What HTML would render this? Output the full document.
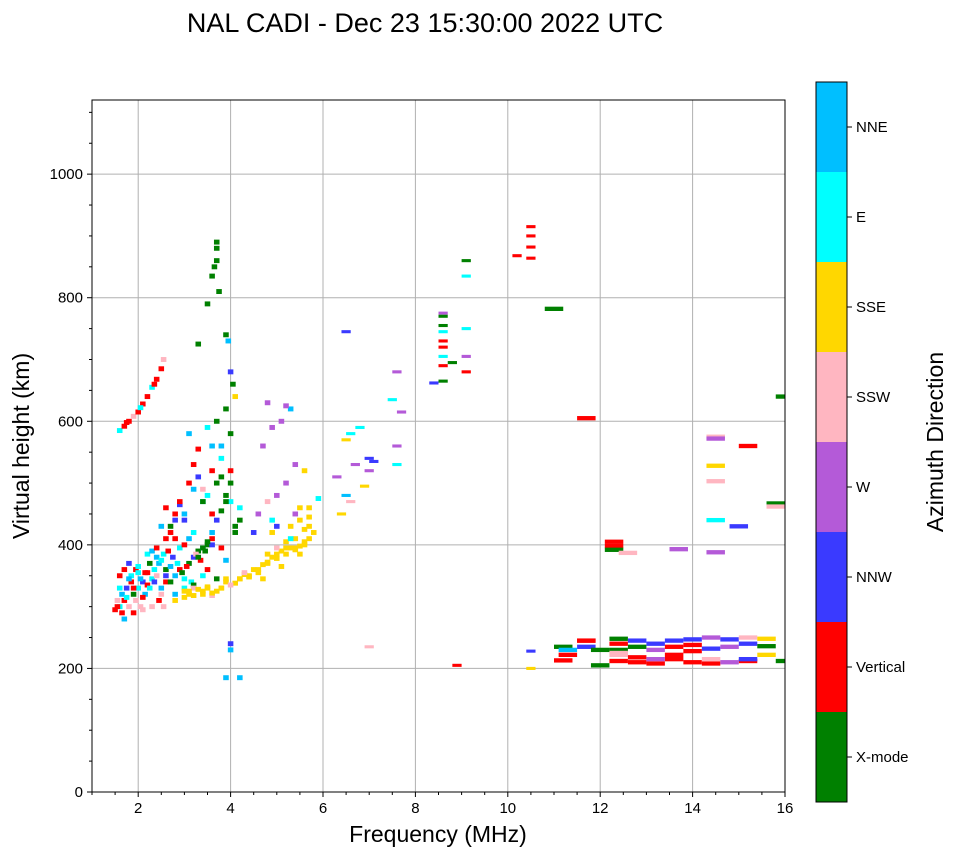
<!DOCTYPE html>
<html><head><meta charset="utf-8"><style>
body{margin:0;background:#fff;}
svg{display:block;font-family:"Liberation Sans",sans-serif;}
</style></head><body>
<svg id="chart" width="958" height="857">
<text x="425" y="32" font-size="27" text-anchor="middle">NAL CADI - Dec 23 15:30:00 2022 UTC</text>
<g id="grid"></g>
<g id="marks"></g>
<rect x="92" y="100" width="693" height="692" fill="none" stroke="#000" stroke-width="1"/>
<g id="axes"></g>
<text x="438" y="842" font-size="23" text-anchor="middle">Frequency (MHz)</text>
<text transform="translate(29,446) rotate(-90)" font-size="23" text-anchor="middle">Virtual height (km)</text>
<g id="cbar"></g>
<text transform="translate(943,442) rotate(-90)" font-size="23" text-anchor="middle">Azimuth Direction</text>
</svg>
<script>
const dirNames=["X-mode","Vertical","NNW","W","SSW","SSE","E","NNE"];
const dirColors=["#008000","#ff0000","#3a3aff","#b45ad8","#ffb6c1","#ffd700","#00ffff","#00bfff"];
const xTicks=[2,4,6,8,10,12,14,16];
const yTicks=[0,200,400,600,800,1000];
const fA=[1.6,1.7,1.8,1.9,2.0,2.1,2.2,2.3,2.4,2.5,2.55,1.75,2.05,2.35];
const hA=[585,592,600,608,615,628,640,655,668,685,700,598,622,660];
const dA=[6,1,1,4,1,1,1,6,1,1,4,1,6,1];
const fB=[1.5,1.6,1.7,1.8,1.9,2.0,2.1,2.2,2.3,2.4,2.5,2.6,1.55,1.65,1.75,1.85,1.95,2.05,2.15,2.25,2.35,2.45,2.55,1.6,1.8,2.0,2.2,2.4,2.6,1.7,1.9,2.1,2.3,2.5];
const hB=[295,300,310,300,320,330,340,335,345,350,330,340,310,290,330,350,360,300,320,370,360,310,300,350,370,365,355,380,360,280,290,295,300,320];
const dB=[1,6,1,4,0,6,2,1,6,4,7,1,4,1,2,6,1,4,7,0,6,1,4,1,2,6,1,7,0,7,1,4,4,4];
const fC=[2.7,2.8,2.9,3.0,3.1,3.2,3.3,3.4,3.5,3.6,2.75,2.85,2.95,3.05,3.15,3.25,3.35,3.45,2.8,3.0,3.2,3.4,3.6,3.8];
const hC=[340,350,360,345,370,380,390,395,400,410,380,370,355,365,340,385,375,390,320,330,335,350,400,395];
const dC=[0,7,1,6,0,2,0,7,0,1,2,6,0,1,6,4,1,0,7,6,0,6,2,1];
const fD=[2.8,3.0,3.2,3.4,3.6,3.8,4.0,4.2,4.4,4.6,4.8,5.0,5.2,5.4,5.6,3.1,3.5,3.9,4.3,4.7,5.1,5.5,4.9,5.3,5.7,6.4,6.6,6.9];
const hD=[310,315,318,320,322,330,335,345,350,360,370,385,395,395,400,325,330,345,355,345,365,385,420,430,445,450,470,495];
const dD=[5,5,5,5,5,5,4,5,5,5,5,5,5,5,5,5,5,5,4,5,5,5,5,5,5,5,4,5];
const fE=[2.7,2.8,2.9,3.0,3.1,3.2,3.3,3.4,3.5,3.6,3.7,3.8,3.9,4.0,4.1,4.2,2.8,3.0,3.2,3.4,3.6,3.8,4.0,3.1,3.3,3.5,3.7,3.9,2.5,2.6];
const hE=[420,440,470,450,500,490,510,470,480,520,500,560,470,520,430,460,410,440,530,490,560,540,580,580,555,590,600,620,430,460];
const dE=[1,2,1,7,1,7,2,0,6,1,0,7,0,1,0,6,1,2,1,4,7,6,0,7,1,6,0,0,7,1];
const fF=[3.7,3.7,3.7,3.65,3.6,3.9,3.95,3.3,3.5,3.75,4.0,4.05,4.1];
const hF=[890,880,860,850,835,740,730,725,790,810,680,660,640];
const dF=[0,0,0,0,0,0,7,0,0,0,2,0,5];
const fG=[4.6,4.8,5.0,5.2,5.4,5.6,4.7,4.9,5.1,5.3,5.5,4.5,4.9,5.3,5.7,5.9,4.8,5.2,5.0,5.4,6.5,6.7,7.0,7.1,6.3,7.6,7.7];
const hG=[450,470,480,500,530,520,560,590,600,620,460,420,440,410,430,475,630,625,430,450,570,530,520,535,510,560,615];
const dG=[3,4,3,3,3,5,3,3,3,7,5,2,6,6,5,6,3,3,2,3,5,3,3,2,3,3,3];
const fH=[6.5,6.6,6.8,7.0,6.5,7.5,7.6,7.6,8.6,8.6,8.6,8.6,8.6,8.6,8.6,8.6,8.6,8.4,8.8,9.1,9.1,9.1,9.1,9.1,10.2,10.5,10.5,10.5,10.5,11.0];
const hH=[745,580,590,540,480,635,680,530,775,770,755,745,730,720,705,690,665,662,695,860,835,750,705,680,868,915,900,882,864,782];
const dH=[2,6,6,2,7,6,3,6,3,0,0,6,1,1,6,1,0,2,0,0,6,6,3,1,1,1,1,1,1,0];
const fI=[8.9,10.5,10.5,11.2,11.7,11.7,11.2,12.3,12.3,12.3,12.6,14.5,14.5,14.5,14.5,14.5,14.5,15.2,15.0,15.8,15.8,13.7,16.0,7.0,4.0,4.0,3.9,4.2];
const hI=[205,228,200,213,605,245,235,405,398,392,387,575,572,528,503,440,388,560,430,467,462,393,640,235,240,230,185,185];
const dI=[1,2,5,1,1,1,0,1,1,0,4,4,3,5,4,6,3,1,2,0,4,3,0,4,2,7,7,7];
const fJ=[11.3,11.3,11.7,11.7,12.0,12.4,12.4,12.4,12.4,12.8,12.8,12.8,13.2,13.2,13.2,13.6,13.6,13.6,14.0,14.0,14.0,14.4,14.4,14.4,14.8,14.8,15.2,15.2,15.2,15.6,15.6,15.6,16.0,12.4,12.8,13.2,13.6,14.0,14.4,14.8,15.2,12.0,12.4];
const hJ=[230,222,245,235,205,248,240,230,212,245,235,210,240,230,208,245,235,215,247,238,228,250,232,208,247,235,250,240,212,248,236,222,212,222,218,215,222,210,215,210,215,230,225];
const dJ=[7,1,1,2,0,0,1,0,1,2,0,1,2,3,1,2,1,1,2,1,1,3,2,1,2,3,4,2,1,5,0,5,0,4,1,3,1,1,4,3,2,0,4];
const fK=[3.0,3.1,3.2,3.3,3.4,3.5,3.6,3.7,3.8,3.9,4.1,4.2,4.3,4.4,4.5,4.6,4.7,4.8,4.9,5.0,5.1,5.2,5.3,5.4,5.5,5.6,5.7,5.8,5.4,5.6,5.2,5.0,4.8,5.5,5.7];
const hK=[325,320,330,328,325,332,318,325,330,340,338,345,352,348,360,355,368,372,380,378,390,385,395,392,398,405,410,420,410,425,405,395,385,440,460];
const dK=[5,5,4,5,5,5,4,5,5,5,5,5,5,5,5,5,5,5,5,5,5,5,5,5,5,5,5,5,5,5,5,4,5,5,5];
const fL=[1.55,1.65,1.75,1.85,1.95,2.05,2.15,2.25,2.35,2.45,2.55,2.65,1.6,1.7,1.8,1.9,2.0,2.1,2.2,2.3,2.4,2.5,2.6,2.7,2.9,3.0,3.1,3.2,2.6,2.7,2.8,2.9];
const hL=[300,320,315,340,310,345,355,330,340,370,385,390,330,360,345,330,355,315,385,390,395,375,350,365,395,400,410,420,410,430,450,465];
const dL=[1,7,6,1,4,7,1,6,2,7,6,1,6,1,7,1,6,1,6,7,1,6,2,7,6,1,7,6,1,0,1,2];
const fM=[3.3,3.4,3.5,3.6,3.7,3.8,3.9,4.0,4.1,4.2,3.4,3.6,3.8,4.0,3.5,3.7,3.9];
const hM=[380,395,405,420,440,455,480,500,420,440,470,450,510,470,360,345,375];
const dM=[0,0,0,7,2,0,0,0,0,0,6,1,0,6,1,0,7];

const NS="http://www.w3.org/2000/svg";
const X0=92,X1=785,Y0=792,Y1=100,FMIN=1,FMAX=16,HMIN=0,HMAX=1120;
const xS=f=>X0+(f-FMIN)/(FMAX-FMIN)*(X1-X0);
const yS=h=>Y0-(h-HMIN)/(HMAX-HMIN)*(Y0-Y1);
function mk(t,a,p){const e=document.createElementNS(NS,t);for(const k in a)e.setAttribute(k,a[k]);p.appendChild(e);return e;}
const grid=document.getElementById('grid'),axes=document.getElementById('axes'),marks=document.getElementById('marks'),cbar=document.getElementById('cbar');
xTicks.forEach(v=>{const x=xS(v);
 const g=mk('line',{x1:x,x2:x,y1:Y1,y2:Y0,stroke:'#b0b0b0','stroke-width':1},grid);
 
 
 mk('line',{x1:x,x2:x,y1:Y0,y2:Y0+5,stroke:'#000'},axes);
 const t=mk('text',{x:x,y:Y0+21,'font-size':15,'text-anchor':'middle'},axes);t.textContent=v;
 
 
});
yTicks.forEach(v=>{const y=yS(v);
 const g=mk('line',{x1:X0,x2:X1,y1:y,y2:y,stroke:'#b0b0b0','stroke-width':1},grid);
 
 
 mk('line',{x1:X0-5,x2:X0,y1:y,y2:y,stroke:'#000'},axes);
 const t=mk('text',{x:X0-9,y:y+5,'font-size':15,'text-anchor':'end'},axes);t.textContent=v;
 
 
});
for(let v=0;v<=1100;v+=50){if(v%200===0)continue;const y=yS(v);mk('line',{x1:X0-3,x2:X0,y1:y,y2:y,stroke:'#000'},axes);}
for(let v=1;v<=16;v+=0.5){if(v%2===0)continue;const x=xS(v);mk('line',{x1:x,x2:x,y1:Y0,y2:Y0+3,stroke:'#000'},axes);}
const groups=[[fA,hA,dA],[fB,hB,dB],[fC,hC,dC],[fK,hK,dK],[fD,hD,dD],[fL,hL,dL],[fM,hM,dM],[fE,hE,dE],[fF,hF,dF],[fG,hG,dG],[fH,hH,dH],[fI,hI,dI],[fJ,hJ,dJ]];
groups.forEach(([F,H,D])=>{F.forEach((f,i)=>{
 const w=f<6?0.12:(f<10.8?0.2:0.4), hh=f<6?8:(f<10.8?5:7);
 const x=xS(f-w/2), x2=xS(f+w/2), y=yS(H[i]+hh/2), y2=yS(H[i]-hh/2);
 const xa=Math.max(X0,x), xb=Math.min(X1,x2);
 const r=mk('rect',{x:xa,y:y,width:Math.max(1,xb-xa),height:y2-y,fill:dirColors[D[i]]},marks);
 
 
});});
const CX=816,CW=31,CT=82,CB=802,seg=(CB-CT)/dirNames.length;
dirNames.forEach((n,i)=>{const yTop=CB-(i+1)*seg;
 const r=mk('rect',{x:CX,y:yTop,width:CW,height:seg,fill:dirColors[i]},cbar);
 
 
 const yc=yTop+seg/2;
 mk('line',{x1:CX+CW,x2:CX+CW+5,y1:yc,y2:yc,stroke:'#000'},cbar);
 const t=mk('text',{x:CX+CW+9,y:yc+5,'font-size':15},cbar);t.textContent=n;
 
 
});
mk('rect',{x:CX,y:CT,width:CW,height:CB-CT,fill:'none',stroke:'#000'},cbar);
</script>
</body></html>
